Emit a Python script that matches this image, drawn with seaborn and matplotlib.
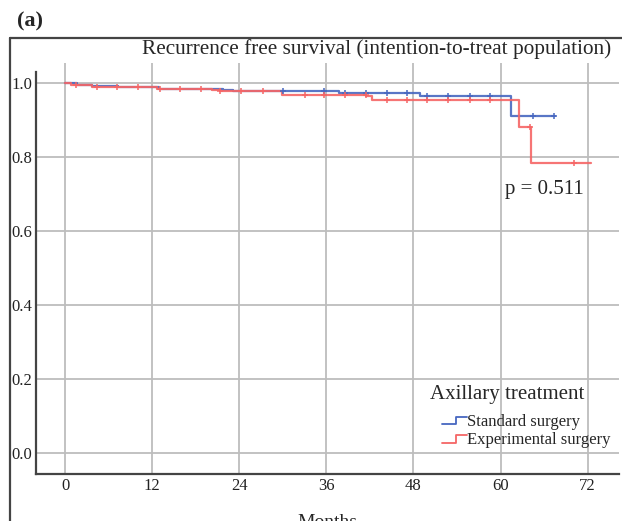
import numpy as np
import matplotlib
matplotlib.use("Agg")
import matplotlib.pyplot as plt
import seaborn as sns
from matplotlib.lines import Line2D
from matplotlib.legend_handler import HandlerLine2D

# ---------------------------------------------------------------
# Kaplan-Meier step data
# ---------------------------------------------------------------
groups = ["Standard surgery", "Experimental surgery"]
colors = ["#4767c0", "#f56666"]

std_times = [0, 1.6, 3.7, 7.3, 13.0, 21.8, 23.1, 37.8, 48.9, 61.4]
std_surv = [1.0, 0.996, 0.992, 0.988, 0.984, 0.981, 0.978, 0.974, 0.964, 0.912]
std_end = 67.5
std_censor = [30.0, 35.7, 38.5, 41.4, 44.4, 47.1, 49.9, 52.8, 55.8, 58.6, 64.4, 67.4]

exp_times = [0, 0.8, 3.7, 12.6, 20.3, 21.3, 29.9, 41.5, 42.3, 62.5, 64.2]
exp_surv = [1.0, 0.996, 0.990, 0.985, 0.982, 0.978, 0.968, 0.964, 0.955, 0.882, 0.784]
exp_end = 72.4
exp_censor = [1.5, 4.4, 7.2, 10.0, 13.1, 15.8, 18.7, 21.4, 24.3, 27.2, 33.0,
              35.7, 38.5, 41.4, 44.4, 47.1, 49.9, 52.8, 55.8, 58.6, 64.1, 70.1]

x_ticks = [0, 12, 24, 36, 48, 60, 72]
y_ticks = [0.0, 0.2, 0.4, 0.6, 0.8, 1.0]
p_text = "p = 0.511"


def surv_at(times, surv, c):
    idx = np.searchsorted(times, c, side="right") - 1
    return np.asarray(surv)[idx]


class StepHandler(HandlerLine2D):
    # legend handle drawn as a little step, like the SPSS output
    def create_artists(self, legend, orig, xd, yd, width, height, fontsize, trans):
        x0, x1 = -xd, -xd + width
        mid = x0 + width * 0.55
        lo, hi = -yd + height * 0.15, -yd + height * 0.8
        ln = Line2D([x0, mid, mid, x1], [lo, lo, hi, hi],
                    color=orig.get_color(), lw=orig.get_linewidth(), transform=trans)
        return [ln]


sns.set_style("white")
plt.rcParams["font.family"] = ["Liberation Serif", "DejaVu Serif"]

fig = plt.figure(figsize=(6.22, 5.21), dpi=100)
ax = fig.add_axes([0.058, 0.090, 0.937, 0.789])

data = [(std_times, std_surv, std_end, std_censor),
        (exp_times, exp_surv, exp_end, exp_censor)]
handles = []
for (t, s, end, cens), name, col in zip(data, groups, colors):
    xs = list(t) + [end]
    ys = list(s) + [s[-1]]
    sns.lineplot(x=xs, y=ys, drawstyle="steps-post", color=col, lw=1.6,
                 alpha=0.9, ax=ax, zorder=3)
    cy = [surv_at(t, s, c) for c in cens]
    sns.scatterplot(x=cens, y=cy, marker="+", s=22, linewidth=1.1,
                    color=col, ax=ax, zorder=4)
    handles.append(Line2D([], [], color=col, lw=1.3))

ax.set_xlim(-4, 76.3)
ax.set_ylim(-0.057, 1.054)
ax.set_xticks(x_ticks)
ax.set_yticks(y_ticks)
ax.set_yticklabels([f"{v:.1f}" for v in y_ticks])
ax.tick_params(length=0, labelsize=12, pad=3, colors="#222222")
ax.grid(True, color="#bdbdbd", lw=1.3)
ax.set_axisbelow(True)

for side in ["top", "right"]:
    ax.spines[side].set_visible(False)
for side in ["left", "bottom"]:
    ax.spines[side].set_color("#444444")
    ax.spines[side].set_linewidth(1.6)
ax.spines["left"].set_bounds(-0.057, 1.03)

ax.set_xlabel("Months", fontsize=14, labelpad=14)
ax.set_ylabel("")

ax.text(66, 0.711, p_text, fontsize=15, ha="center", va="center")

# legend title placed as its own text, entries below it
ax.text(507 / 622, 1 - 395 / 521, "Axillary treatment", fontsize=15,
        ha="center", va="center", transform=fig.transFigure)
leg = ax.legend(handles, groups,
                handler_map={Line2D: StepHandler()},
                loc="upper left", bbox_to_anchor=(442 / 622, 1 - 414 / 521),
                bbox_transform=fig.transFigure,
                frameon=False, fontsize=12,
                handlelength=1.5, handletextpad=0.0, labelspacing=0.15,
                borderpad=0.0, borderaxespad=0.0)

# title and panel label
fig.text(0.982, 0.905, "Recurrence free survival (intention-to-treat population)",
         fontsize=15.3, ha="right", va="center")
fig.text(0.027, 0.958, "(a)", fontsize=16, fontweight="bold", ha="left", va="center")

# outer frame (top and left edges)
fig.add_artist(Line2D([0.016, 1.0], [0.927, 0.927], color="#444444", lw=1.6,
                      transform=fig.transFigure))
fig.add_artist(Line2D([0.016, 0.016], [0.0, 0.927], color="#444444", lw=1.6,
                      transform=fig.transFigure))

plt.savefig("out.png", dpi=100)
